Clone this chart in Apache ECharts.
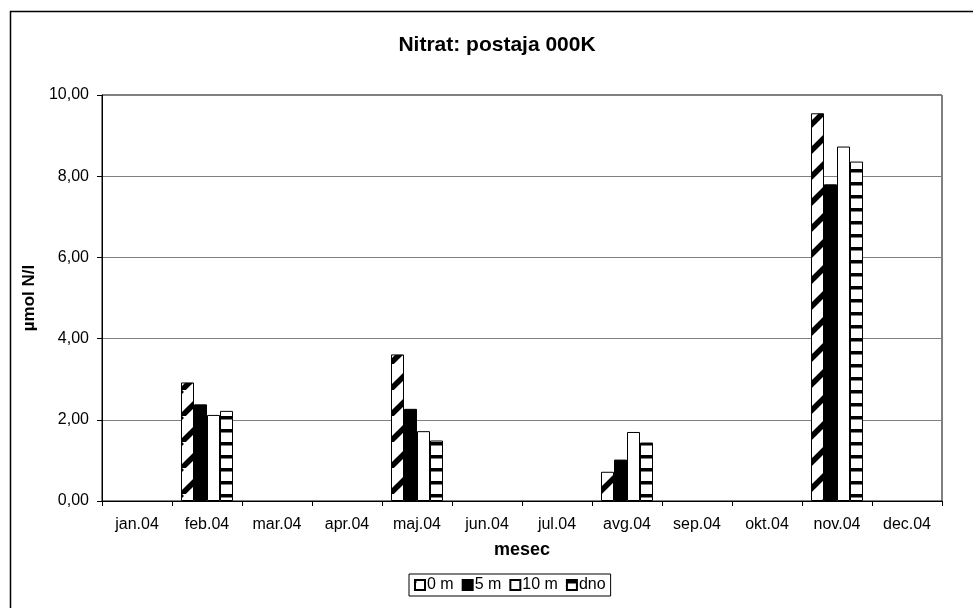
<!DOCTYPE html>
<html>
<head>
<meta charset="utf-8">
<script src="https://cdn.jsdelivr.net/npm/echarts@6/dist/echarts.min.js"></script>
<style>html,body{margin:0;padding:0;background:#fff}#c{width:973px;height:608px}</style>
</head>
<body>
<div id="c"></div>
<script>
const categories = ['jan.04','feb.04','mar.04','apr.04','maj.04','jun.04','jul.04','avg.04','sep.04','okt.04','nov.04','dec.04'];
const seriesNames = ['0 m','5 m','10 m','dno'];
const s0m  = [null, 2.92, null, null, 3.61, null, null, 0.72, null, null, 9.55, null];
const s5m  = [null, 2.38, null, null, 2.27, null, null, 1.02, null, null, 7.80, null];
const s10m = [null, 2.12, null, null, 1.72, null, null, 1.70, null, null, 8.73, null];
const sdno = [null, 2.22, null, null, 1.49, null, null, 1.44, null, null, 8.36, null];
const yTicks = [0, 2, 4, 6, 8, 10];

function diagPattern() {
  const c = document.createElement('canvas');
  c.width = 26; c.height = 26;
  const g = c.getContext('2d');
  g.fillStyle = '#fff'; g.fillRect(0, 0, 26, 26);
  g.strokeStyle = '#000'; g.lineWidth = 5.5;
  for (const k of [-26, 0, 26]) {
    g.beginPath(); g.moveTo(k, 26); g.lineTo(k + 26, 0); g.stroke();
  }
  return c;
}
function horizPattern() {
  const c = document.createElement('canvas');
  c.width = 13; c.height = 13;
  const g = c.getContext('2d');
  g.fillStyle = '#fff'; g.fillRect(0, 0, 13, 13);
  g.fillStyle = '#000'; g.fillRect(0, 0, 13, 3.5);
  return c;
}
const fills = [
  { image: diagPattern(), repeat: 'repeat' },
  '#000',
  '#fff',
  { image: horizPattern(), repeat: 'repeat' }
];
const dataSets = [s0m, s5m, s10m, sdno];

const chart = echarts.init(document.getElementById('c'), null, { renderer: 'canvas' });
const font = 'Liberation Sans, Arial, sans-serif';
chart.setOption({
  animation: false,
  backgroundColor: '#fff',
  textStyle: { fontFamily: font, color: '#000' },
  graphic: [{
    type: 'rect', left: 8, top: 9, silent: true,
    shape: { x: 0, y: 0, width: 1000, height: 700 },
    style: { fill: 'none', stroke: '#000', lineWidth: 1.5 }
  }],
  title: {
    text: 'Nitrat: postaja 000K',
    left: 497, textAlign: 'center', top: 35, padding: 0,
    textStyle: { fontFamily: font, fontSize: 21, fontWeight: 'bold', color: '#000' }
  },
  legend: {
    data: seriesNames,
    left: 409, top: 574,
    padding: [3, 5, 3, 5],
    itemGap: 8, itemWidth: 10, itemHeight: 10,
    icon: 'rect',
    borderColor: '#000', borderWidth: 1,
    textStyle: { fontFamily: font, fontSize: 16, color: '#000', padding: [0, 0, 0, -3] }
  },
  grid: {
    left: 102, right: 31, top: 95, bottom: 107,
    show: true, borderColor: '#000', borderWidth: 1
  },
  xAxis: {
    type: 'category',
    data: categories,
    name: 'mesec',
    nameLocation: 'middle',
    nameGap: 40,
    nameTextStyle: { fontFamily: font, fontSize: 18, fontWeight: 'bold', color: '#000' },
    axisLine: { lineStyle: { color: '#000', width: 1 } },
    axisTick: { show: true, length: 5, lineStyle: { color: '#000' } },
    axisLabel: { fontFamily: font, fontSize: 16, color: '#000', margin: 16 },
    splitLine: { show: false }
  },
  yAxis: {
    type: 'value',
    min: 0, max: 10, interval: 2,
    name: 'µmol N/l',
    nameLocation: 'middle',
    nameRotate: 90,
    nameGap: 60,
    nameTextStyle: { fontFamily: font, fontSize: 17, fontWeight: 'bold', color: '#000' },
    axisLine: { show: true, lineStyle: { color: '#000', width: 1 } },
    axisTick: { show: true, length: 5, lineStyle: { color: '#000' } },
    axisLabel: {
      fontFamily: font, fontSize: 16, color: '#000', margin: 13,
      formatter: v => yTicks.includes(v) ? v.toFixed(2).replace('.', ',') : ''
    },
    splitLine: { show: true, lineStyle: { color: '#808080', width: 1 } }
  },
  series: seriesNames.map((n, i) => ({
    name: n,
    type: 'bar',
    data: dataSets[i],
    barWidth: 13,
    barGap: '0%',
    itemStyle: { color: fills[i], borderColor: '#000', borderWidth: 1 },
    emphasis: { disabled: true }
  }))
});
</script>
</body>
</html>
